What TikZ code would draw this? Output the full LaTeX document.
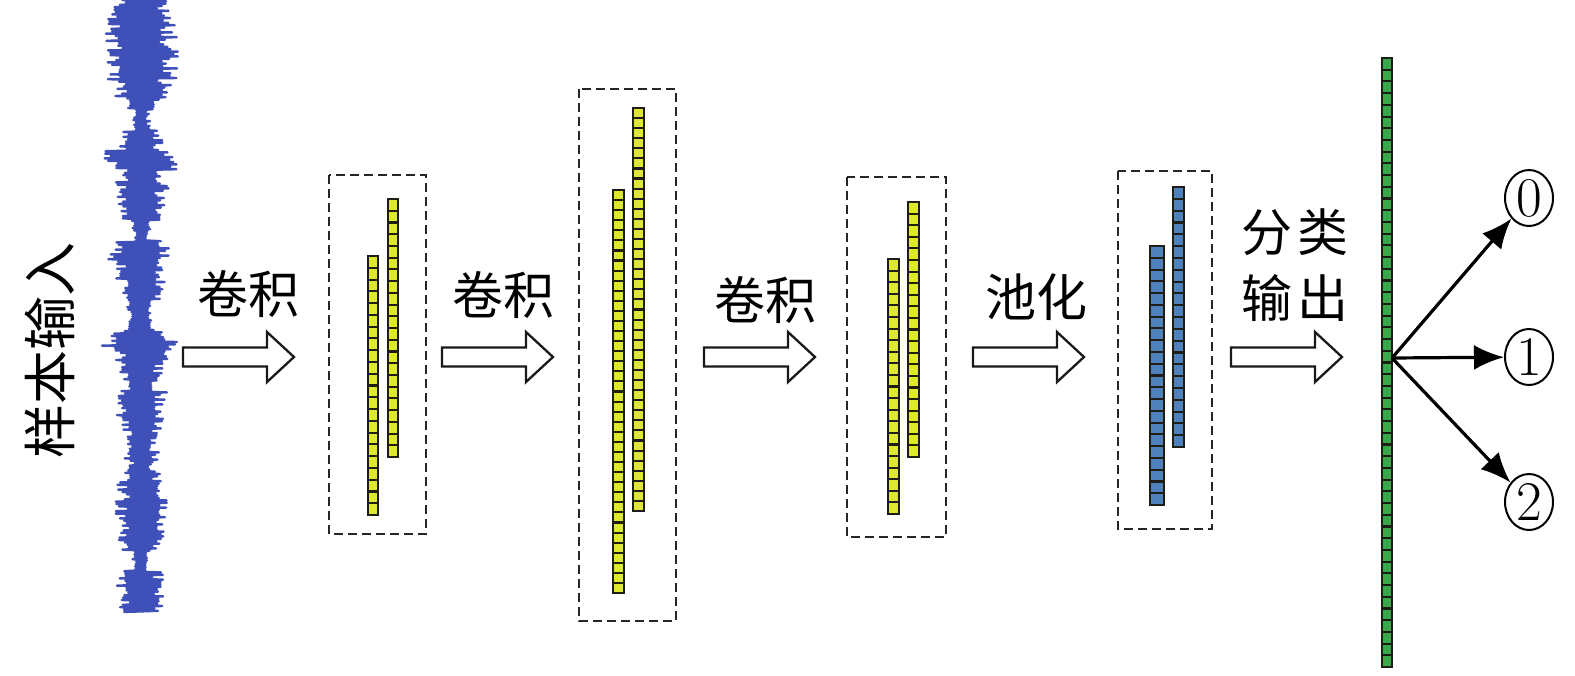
\documentclass[tikz,border=0pt]{standalone}
\usepackage{fontspec}
\newfontfamily\cjk{Noto Sans CJK SC}
\usetikzlibrary{arrows.meta,shapes.geometric}
\definecolor{ycell}{RGB}{222,232,48}
\definecolor{bcell}{RGB}{79,129,189}
\definecolor{gcell}{RGB}{56,168,74}
\definecolor{wavecol}{RGB}{64,80,185}
\definecolor{cellline}{RGB}{30,30,20}
\newcommand\cellcol[6]{%
  \pgfmathsetmacro\cstep{(#3-#2)/#4}%
  \foreach \i in {1,...,#4}{%
    \pgfmathsetmacro\ya{#2+(\i-1)*\cstep}%
    \pgfmathsetmacro\yb{#2+\i*\cstep}%
    \draw[cell, fill=#6] (#1,\ya) rectangle ({#1+#5},\yb);
  }%
}
\begin{document}
\begin{tikzpicture}[x=1pt,y=-1pt,
  cell/.style={draw=cellline, line width=2.1pt},
  dbox/.style={draw=black!85, line width=2pt, dash pattern=on 9pt off 5pt},
  hollow/.style={draw=black!90, line width=2.3pt, fill=white, line join=miter},
  lbl/.style={font=\cjk\fontsize{51}{60}\selectfont, inner sep=0pt},
  circ/.style={ellipse, draw, line width=2pt, minimum width=48pt, minimum height=56pt, inner sep=0pt, font=\fontsize{56}{60}\selectfont},
  outarr/.style={line width=3.2pt, -{Latex[length=30pt,width=25pt]}},
  wave/.style={draw=wavecol, line width=2.4pt, line join=round},
  harrow/.pic={\draw[hollow] (0,-9.5) -- (84,-9.5) -- (84,-25) -- (111,0) -- (84,25) -- (84,9.5) -- (0,9.5) -- cycle;}
]
\useasboundingbox (0,0) rectangle (1575,675);

% waveform
\pgfmathsetseed{4321}
\gdef\wavepts{}
\foreach \k in {0,...,510}{%
  \pgfmathsetmacro\yy{1.2*\k}%
  \pgfmathtruncatemacro\ii{\yy/10}%
  \pgfmathsetmacro\ee{{30,36,34,38,36,38,40,36,30,26,14,8,10,18,22,38,36,24,28,24,26,22,12,8,30,34,28,26,24,20,14,10,14,30,40,28,24,22,18,26,24,26,22,16,14,18,12,20,24,20,26,28,22,24,20,10,8,22,26,24,22,20,10}[\ii]}%
  \pgfmathsetmacro\xx{141+(2*mod(\k,2)-1)*\ee*(0.5+0.5*rnd)}%
  \xdef\wavepts{\wavepts(\xx,\yy)}%
}
\edef\drawwave{\noexpand\draw[wave] plot coordinates {\wavepts};}
\drawwave

% input label
\node[lbl, rotate=90, font=\cjk\fontsize{54}{60}\selectfont] (inp) at (50,350) {样本输入};

% hollow arrows and labels
\pic (a1) at (183,357) {harrow};
\pic (a2) at (442,357) {harrow};
\pic (a3) at (704,357) {harrow};
\pic (a4) at (973,357) {harrow};
\pic (a5) at (1231,357) {harrow};
\node[lbl] (l1) at (248,294) {卷积};
\node[lbl] (l2) at (503,295) {卷积};
\node[lbl] (l3) at (765,300) {卷积};
\node[lbl] (l4) at (1036,297) {池化};
\node[lbl] (l5) at (1295,232) {分\hspace{6pt}类};
\node[lbl] (l6) at (1295,298) {输\hspace{6pt}出};

% box 1
\draw[dbox] (329,175) rectangle (426,534);
\cellcol{368}{256}{515}{22}{10}{ycell}
\cellcol{388}{199}{457}{22}{10}{ycell}

% box 2
\draw[dbox] (579,89) rectangle (676,621);
\cellcol{613}{190}{593}{40}{11}{ycell}
\cellcol{633}{108}{511}{40}{11}{ycell}

% box 3
\draw[dbox] (847,177) rectangle (946,537);
\cellcol{888}{259}{514}{22}{11}{ycell}
\cellcol{908}{202}{457}{22}{11}{ycell}

% box 4
\draw[dbox] (1118,171) rectangle (1212,529);
\cellcol{1150}{246}{505}{22}{14}{bcell}
\cellcol{1173}{187}{447}{22}{11}{bcell}

% output column
\cellcol{1382}{58}{667}{52}{10}{gcell}

% outputs
\coordinate (g) at (1392,358);
\node[circ] (c0) at (1529,198) {0};
\node[circ] (c1) at (1529,357) {1};
\node[circ] (c2) at (1529,502) {2};
\draw[outarr] (g) -- (c0);
\draw[outarr] (g) -- (c1);
\draw[outarr] (g) -- (c2);
\end{tikzpicture}
\end{document}
